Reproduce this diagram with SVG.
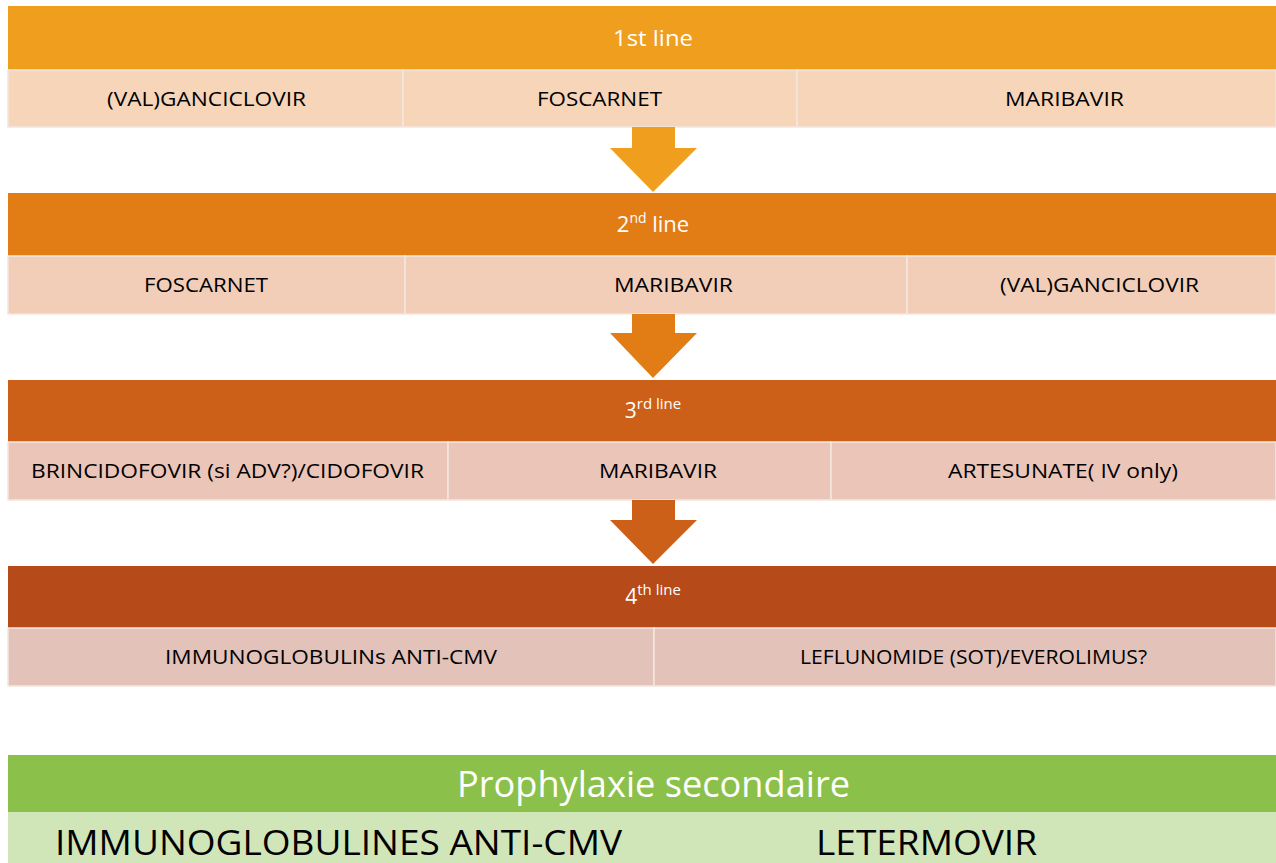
<svg xmlns="http://www.w3.org/2000/svg" width="1276" height="863" viewBox="0 0 1276 863">
<style>
.t{font-family:"Open Sans","Liberation Sans",sans-serif;font-size:20px;fill:#000;text-anchor:middle}
.h{font-family:"Open Sans","Liberation Sans",sans-serif;fill:#fff;text-anchor:middle}
.cell{stroke:#f4e6e0;stroke-width:1.5}
.b{font-family:"Open Sans","Liberation Sans",sans-serif;font-size:34px;fill:#000}
</style>
<rect width="1276" height="863" fill="#fff"/>
<g id="band1">
<rect x="8" y="6" width="1268" height="64" fill="#F09E1E"/>
<text class="h" x="653" y="46" font-size="22" textLength="80" lengthAdjust="spacingAndGlyphs">1st line</text>
<rect class="cell" x="8" y="70" width="395" height="57" fill="#F7D5B8"/>
<rect class="cell" x="403" y="70" width="394" height="57" fill="#F7D5B8"/>
<rect class="cell" x="797" y="70" width="479" height="57" fill="#F7D5B8"/>
<text class="t" x="206.5" y="106" textLength="199" lengthAdjust="spacingAndGlyphs">(VAL)GANCICLOVIR</text>
<text class="t" x="599.5" y="106" textLength="125" lengthAdjust="spacingAndGlyphs">FOSCARNET</text>
<text class="t" x="1064.5" y="106" textLength="119" lengthAdjust="spacingAndGlyphs">MARIBAVIR</text>
</g>
<g id="band2">
<rect x="8" y="193" width="1268" height="63" fill="#E27D15"/>
<text class="h" x="653" y="232" font-size="22">2<tspan font-size="14" dy="-9">nd</tspan><tspan dy="9"> line</tspan></text>
<rect class="cell" x="8" y="256" width="397" height="58" fill="#F2CEB8"/>
<rect class="cell" x="405" y="256" width="502" height="58" fill="#F2CEB8"/>
<rect class="cell" x="907" y="256" width="369" height="58" fill="#F2CEB8"/>
<text class="t" x="206" y="292" textLength="124" lengthAdjust="spacingAndGlyphs">FOSCARNET</text>
<text class="t" x="673.5" y="292" textLength="119" lengthAdjust="spacingAndGlyphs">MARIBAVIR</text>
<text class="t" x="1099.5" y="292" textLength="199" lengthAdjust="spacingAndGlyphs">(VAL)GANCICLOVIR</text>
</g>
<g id="band3">
<rect x="8" y="380" width="1268" height="62" fill="#CC6018"/>
<text class="h" x="653" y="418" font-size="21">3<tspan font-size="15" dy="-9">rd line</tspan></text>
<rect class="cell" x="8" y="442" width="440" height="58" fill="#EBC6B8"/>
<rect class="cell" x="448" y="442" width="383" height="58" fill="#EBC6B8"/>
<rect class="cell" x="831" y="442" width="445" height="58" fill="#EBC6B8"/>
<text class="t" x="227.5" y="478" textLength="393" lengthAdjust="spacingAndGlyphs">BRINCIDOFOVIR (si ADV?)/CIDOFOVIR</text>
<text class="t" x="658" y="478" textLength="118" lengthAdjust="spacingAndGlyphs">MARIBAVIR</text>
<text class="t" x="1063" y="478" textLength="230" lengthAdjust="spacingAndGlyphs">ARTESUNATE( IV only)</text>
</g>
<g id="band4">
<rect x="8" y="566" width="1268" height="62" fill="#B64A18"/>
<text class="h" x="653" y="604" font-size="21">4<tspan font-size="15" dy="-9">th line</tspan></text>
<rect class="cell" x="8" y="628" width="646" height="58" fill="#E2C2B9"/>
<rect class="cell" x="654" y="628" width="622" height="58" fill="#E2C2B9"/>
<text class="t" x="331" y="664" textLength="332" lengthAdjust="spacingAndGlyphs">IMMUNOGLOBULINs ANTI-CMV</text>
<text class="t" x="973.5" y="664" textLength="347" lengthAdjust="spacingAndGlyphs">LEFLUNOMIDE (SOT)/EVEROLIMUS?</text>
</g>
<g id="prophylaxie">
<rect x="8" y="755" width="1268" height="57" fill="#8BC14A"/>
<text class="h" x="653.5" y="797" font-size="36" textLength="393" lengthAdjust="spacingAndGlyphs">Prophylaxie secondaire</text>
<rect x="8" y="812" width="1268" height="51" fill="#D1E6B8"/>
<text class="b" x="55" y="855" textLength="567" lengthAdjust="spacingAndGlyphs">IMMUNOGLOBULINES ANTI-CMV</text>
<text class="b" x="816" y="855" textLength="221" lengthAdjust="spacingAndGlyphs">LETERMOVIR</text>
</g>
<g id="connectors">
<polygon points="632,127 675,127 675,148 697,148 653,192 610,148 632,148" fill="#F09E1E"/>
<polygon points="632,314 675,314 675,333 697,333 653,378 610,333 632,333" fill="#E27D15"/>
<polygon points="632,500 675,500 675,520 697,520 653,564 610,520 632,520" fill="#CC6018"/>
</g>
</svg>
